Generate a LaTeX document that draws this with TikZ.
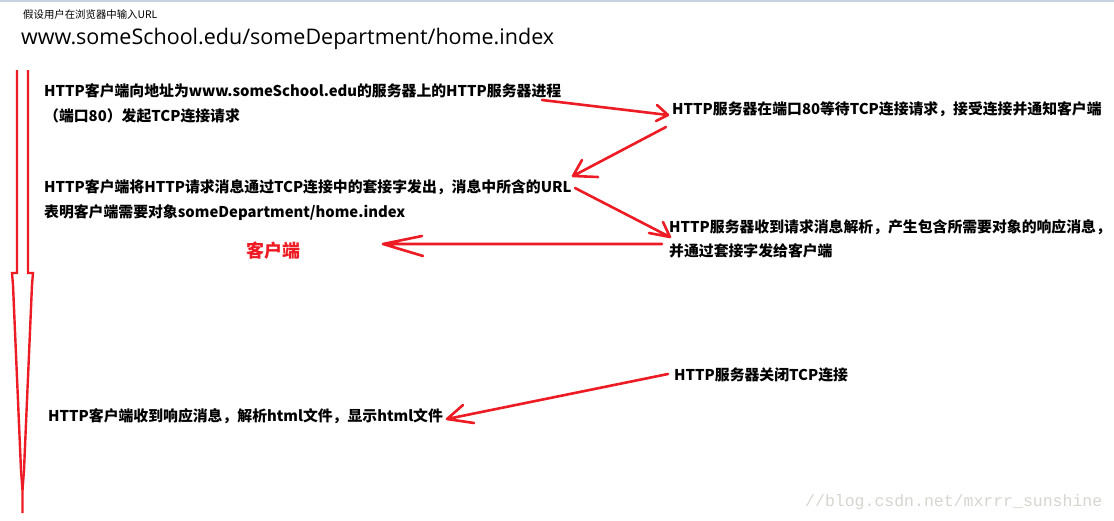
\documentclass[tikz,border=0pt]{standalone}
\usepackage{fontspec}
\newfontfamily\cjk{Noto Sans CJK SC}
\newfontfamily\urlfont{Open Sans}
\newfontfamily\wmfont{Liberation Mono}
\definecolor{ared}{RGB}{237,28,36}
\definecolor{wmgray}{RGB}{214,214,208}
\definecolor{topgray}{RGB}{200,210,225}
\begin{document}
\begin{tikzpicture}[x=1pt,y=-1pt,
  redline/.style={draw=ared,line width=2.6pt,line cap=round,line join=round},
  lifeline/.style={draw=ared,line width=2.4pt,line join=miter},
  body/.style={font=\cjk\bfseries\fontsize{14.85}{18}\selectfont,anchor=base west,inner sep=0pt},
  small/.style={font=\cjk\fontsize{10.4}{13}\selectfont,anchor=base west,inner sep=0pt},
  urlt/.style={font=\urlfont\fontsize{21.5}{25}\selectfont,anchor=base west,inner sep=0pt},
  redlbl/.style={font=\cjk\bfseries\fontsize{18}{21}\selectfont,text=ared,anchor=base west,inner sep=0pt},
  wm/.style={font=\wmfont\fontsize{16.5}{19}\selectfont,text=wmgray,anchor=base west,inner sep=0pt},
]
\useasboundingbox[fill=white] (0,0) rectangle (1114,520);
\draw[topgray,line width=2pt] (0,1) -- (1114,1);

% texts
\node[small] (hint) at (23,18) {假设用户在浏览器中输入URL};
\node[urlt] (url) at (21,44) {www.someSchool.edu/someDepartment/home.index};
\node[body] (c1a) at (44,96) {HTTP客户端向地址为www.someSchool.edu的服务器上的HTTP服务器进程};
\node[body] (c1b) at (44,121) {（端口80）发起TCP连接请求};
\node[body] (s1) at (672,114) {HTTP服务器在端口80等待TCP连接请求，接受连接并通知客户端};
\node[body] (c2a) at (44,192) {HTTP客户端将HTTP请求消息通过TCP连接中的套接字发出，消息中所含的URL};
\node[body] (c2b) at (44,217) {表明客户端需要对象someDepartment/home.index};
\node[body] (s2a) at (669,232) {HTTP服务器收到请求消息解析，产生包含所需要对象的响应消息，};
\node[body] (s2b) at (669,256) {并通过套接字发给客户端};
\node[redlbl] (client) at (246,257) {客户端};
\node[body] (s3) at (674,380) {HTTP服务器关闭TCP连接};
\node[body] (c3) at (48,421) {HTTP客户端收到响应消息，解析html文件，显示html文件};
\node[wm] (wm) at (805,506) {//blog.csdn.net/mxrrr\_sunshine};

% client life line
\draw[lifeline] (17,70) -- (17,273) -- (12,273) -- (13,285) -- (21,470) -- (22.5,490) -- (22.5,513);
\draw[lifeline] (28,70) -- (28,273) -- (33,273) -- (32,285) -- (24,470) -- (22.5,490);

% arrows
\coordinate (a1s) at (542,100); \coordinate (a1e) at (668,115);
\draw[redline] (a1s) -- (a1e) (a1e) -- ++(-11,-10) (a1e) -- ++(-12,6);
\coordinate (a2s) at (666,127); \coordinate (a2e) at (573,176);
\draw[redline] (a2s) -- (a2e) (a2e) -- ++(9,-16) (a2e) -- ++(25,1);
\coordinate (a3s) at (575,188); \coordinate (a3e) at (670,237);
\draw[redline] (a3s) -- (a3e) (a3e) -- ++(-7,-15) (a3e) -- ++(-21,-4);
\coordinate (a4s) at (662,244); \coordinate (a4e) at (383,244);
\draw[redline] (a4s) -- (a4e) (a4e) -- ++(39,-8) (a4e) -- ++(40,12);
\coordinate (a5s) at (668,374); \coordinate (a5e) at (447,419);
\draw[redline] (a5s) -- (a5e) (a5e) -- ++(16,-14) (a5e) -- ++(27,4);
\end{tikzpicture}
\end{document}
